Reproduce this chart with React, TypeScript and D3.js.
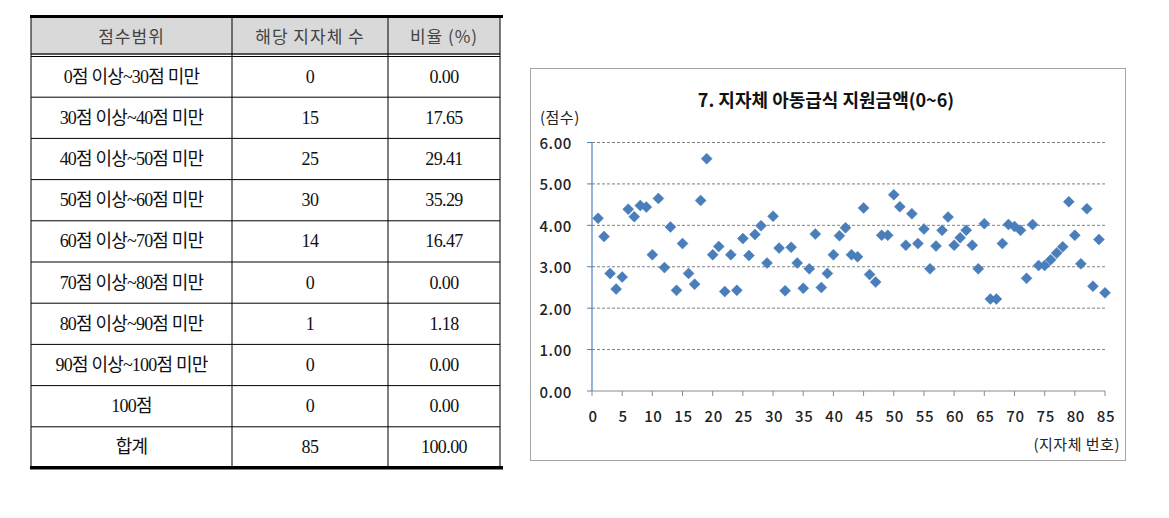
import React from "react";
import * as d3 from "d3";

const tableHeaders = ["점수범위", "해당 지자체 수", "비율 (%)"];
const scoreRanges = [
  "0점 이상~30점 미만",
  "30점 이상~40점 미만",
  "40점 이상~50점 미만",
  "50점 이상~60점 미만",
  "60점 이상~70점 미만",
  "70점 이상~80점 미만",
  "80점 이상~90점 미만",
  "90점 이상~100점 미만",
  "100점",
  "합계",
];
const counts = [0, 15, 25, 30, 14, 0, 1, 0, 0, 85];
const ratios = ["0.00", "17.65", "29.41", "35.29", "16.47", "0.00", "1.18", "0.00", "0.00", "100.00"];

const chartTitle = "7. 지자체 아동급식 지원금액(0~6)";
const yAxisLabel = "(점수)";
const xAxisLabel = "(지자체  번호)";
const scores = [
  4.17, 3.73, 2.84, 2.46, 2.75, 4.39, 4.21, 4.48, 4.44, 3.29,
  4.65, 2.98, 3.96, 2.43, 3.56, 2.84, 2.58, 4.6, 5.61, 3.29,
  3.49, 2.4, 3.29, 2.43, 3.68, 3.27, 3.78, 3.99, 3.09, 4.22,
  3.45, 2.42, 3.47, 3.09, 2.48, 2.95, 3.79, 2.5, 2.84, 3.29,
  3.75, 3.94, 3.29, 3.24, 4.42, 2.81, 2.63, 3.76, 3.76, 4.74,
  4.45, 3.52, 4.28, 3.56, 3.91, 2.95, 3.5, 3.88, 4.2, 3.52,
  3.7, 3.88, 3.52, 2.95, 4.04, 2.22, 2.22, 3.56, 4.02, 3.97,
  3.88, 2.72, 4.02, 3.03, 3.03, 3.17, 3.33, 3.48, 4.57, 3.76,
  3.07, 4.4, 2.53, 3.66, 2.37,
];
const yTicks = [0, 1, 2, 3, 4, 5, 6];
const xTicks = [0, 5, 10, 15, 20, 25, 30, 35, 40, 45, 50, 55, 60, 65, 70, 75, 80, 85];

const tableFont = "'Liberation Serif', 'Noto Sans CJK KR', serif";
const headFont = "'Noto Sans CJK KR', sans-serif";
const chartFont = "'Noto Sans CJK KR', 'Noto Sans', sans-serif";

export default function App() {
  const colX = [31, 232, 388, 500];
  const headTop = 17;
  const rowTop = 56;
  const rowH = 41.2;
  const tableBottom = rowTop + rowH * scoreRanges.length;

  const x = d3.scaleLinear().domain([0, 85]).range([592, 1105]);
  const y = d3.scaleLinear().domain([0, 6]).range([391, 142.5]);
  const diamond = (cx: number, cy: number, r: number) =>
    `M${cx},${cy - r}L${cx + r},${cy}L${cx},${cy + r}L${cx - r},${cy}Z`;

  return (
    <svg
      width={1169}
      height={518}
      style={{ position: "absolute", left: 0, top: 0, background: "#fff" }}
    >
      {/* ---------- Table ---------- */}
      <rect x={colX[0]} y={headTop} width={colX[3] - colX[0]} height={37} fill="#d9d9d9" />
      <rect x={30} y={15} width={473} height={3} fill="#000" />
      <rect x={30} y={tableBottom - 2} width={473} height={3.5} fill="#000" />
      <line x1={colX[0]} x2={colX[3]} y1={54} y2={54} stroke="#222" strokeWidth={1.5} />
      <line x1={colX[0]} x2={colX[3]} y1={56.5} y2={56.5} stroke="#000" strokeWidth={1} />
      {scoreRanges.slice(1).map((_, i) => (
        <line
          key={"h" + i}
          x1={colX[0]}
          x2={colX[3]}
          y1={rowTop + rowH * (i + 1)}
          y2={rowTop + rowH * (i + 1)}
          stroke="#000"
          strokeWidth={1}
        />
      ))}
      {colX.map((cx, i) => (
        <line key={"v" + i} x1={cx} x2={cx} y1={headTop} y2={tableBottom - 2} stroke="#000" strokeWidth={1} />
      ))}
      {tableHeaders.map((h, i) => (
        <text
          key={"th" + i}
          x={(colX[i] + colX[i + 1]) / 2}
          y={(headTop + 54) / 2}
          textAnchor="middle"
          dominantBaseline="central"
          fontFamily={headFont}
          fontSize={17}
          letterSpacing={1}
          fill="#444"
        >
          {h}
        </text>
      ))}
      {scoreRanges.map((r, i) => {
        const cy = rowTop + rowH * i + rowH / 2;
        const cells = [r, String(counts[i]), ratios[i]];
        return cells.map((c, j) => (
          <text
            key={"c" + i + "-" + j}
            x={(colX[j] + colX[j + 1]) / 2}
            y={cy}
            textAnchor="middle"
            dominantBaseline="central"
            fontFamily={tableFont}
            fontSize={18}
            letterSpacing={j === 0 ? -0.8 : -0.6}
            fill="#111"
          >
            {c}
          </text>
        ));
      })}

      {/* ---------- Chart ---------- */}
      <rect x={530.5} y={68.5} width={595} height={392} fill="#fff" stroke="#a6a6a6" strokeWidth={1} />
      <text x={826} y={107} textAnchor="middle" fontFamily={chartFont} fontSize={18} fontWeight="bold" fill="#111">
        {chartTitle}
      </text>
      <text x={540} y={123} fontFamily={chartFont} fontSize={15} letterSpacing={0.5} fill="#222">
        {yAxisLabel}
      </text>
      {yTicks.map((t) => (
        <g key={"yt" + t}>
          {t > 0 && (
            <line
              x1={x(0)}
              x2={x(85)}
              y1={y(t)}
              y2={y(t)}
              stroke="#808080"
              strokeWidth={1}
              strokeDasharray="3,2"
            />
          )}
          <line x1={x(0) - 5} x2={x(0)} y1={y(t)} y2={y(t)} stroke="#4f81bd" strokeWidth={1} />
          <text
            x={572}
            y={y(t)}
            textAnchor="end"
            dominantBaseline="central"
            fontFamily={chartFont}
            fontSize={15}
            letterSpacing={0.6}
            fontWeight={500}
            fill="#222"
          >
            {d3.format(".2f")(t)}
          </text>
        </g>
      ))}
      <line x1={x(0)} x2={x(85)} y1={y(0)} y2={y(0)} stroke="#8c8c8c" strokeWidth={1} />
      {xTicks.map((t) => (
        <g key={"xt" + t}>
          <line x1={x(t)} x2={x(t)} y1={y(0)} y2={y(0) + 5} stroke="#8c8c8c" strokeWidth={1} />
          <text
            x={x(t) + 1}
            y={y(0) + 24}
            textAnchor="middle"
            dominantBaseline="central"
            fontFamily={chartFont}
            fontSize={15}
            letterSpacing={0.6}
            fontWeight={500}
            fill="#222"
          >
            {t}
          </text>
        </g>
      ))}
      <line x1={x(0)} x2={x(0)} y1={y(6)} y2={y(0)} stroke="#4f81bd" strokeWidth={1.2} />
      {scores.map((v, i) => (
        <path key={"p" + i} d={diamond(x(i + 1), y(v), 5.5)} fill="#4a7ebb" stroke="#4a7ebb" strokeWidth={0.5} />
      ))}
      <text x={1120} y={450} textAnchor="end" fontFamily={chartFont} fontSize={15} letterSpacing={0.5} fill="#222">
        {xAxisLabel}
      </text>
    </svg>
  );
}
